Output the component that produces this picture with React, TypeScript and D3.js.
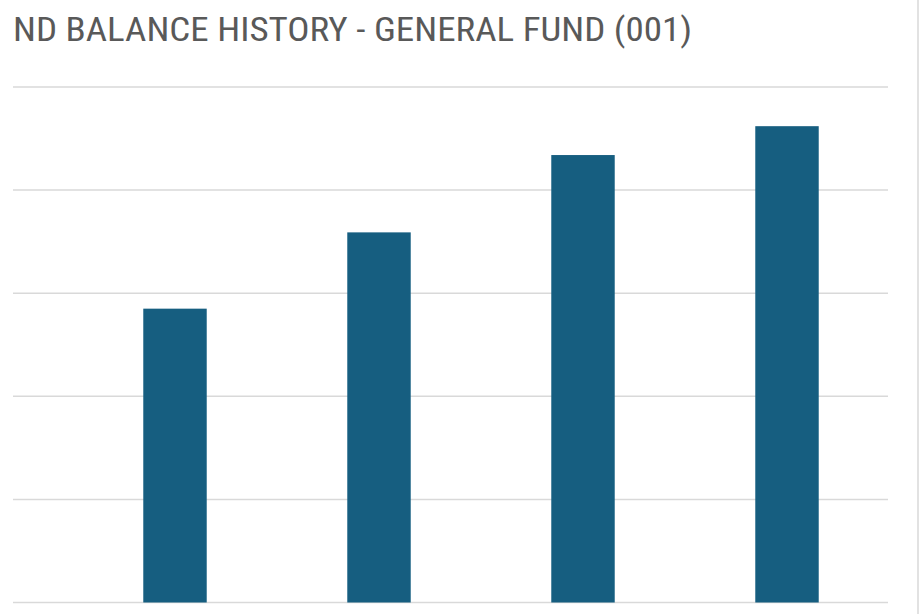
import * as d3 from "d3";
import { useEffect, useRef } from "react";

const years = ["FY2020", "FY2021", "FY2022", "FY2023"];
const balances = [28.5, 35.9, 43.4, 46.2];
const gridTicks = [0, 10, 20, 30, 40, 50];
const title = "ND BALANCE HISTORY - GENERAL FUND (001)";

const width = 921;
const height = 614;

function Chart() {
  const ref = useRef<SVGSVGElement | null>(null);

  useEffect(() => {
    const svg = d3.select(ref.current);
    svg.selectAll("*").remove();

    const x = d3.scaleBand<string>()
      .domain(years)
      .range([73, 889])
      .paddingInner(0.689)
      .paddingOuter(0.3445);

    const y = d3.scaleLinear()
      .domain([0, 50])
      .range([602.5, 87]);

    svg.append("rect")
      .attr("width", width)
      .attr("height", height)
      .attr("fill", "#ffffff");

    // gridlines
    svg.append("g")
      .selectAll("line")
      .data(gridTicks)
      .join("line")
      .attr("x1", 13)
      .attr("x2", 888)
      .attr("y1", d => y(d))
      .attr("y2", d => y(d))
      .attr("stroke", "#d9d9d9")
      .attr("stroke-width", 1.5);

    // right edge of the chart frame
    svg.append("line")
      .attr("x1", 918)
      .attr("x2", 918)
      .attr("y1", 0)
      .attr("y2", height)
      .attr("stroke", "#d9d9d9")
      .attr("stroke-width", 1.5);

    svg.append("g")
      .selectAll("rect")
      .data(balances)
      .join("rect")
      .attr("x", (d, i) => x(years[i])!)
      .attr("width", x.bandwidth())
      .attr("y", d => y(d))
      .attr("height", d => y(0) - y(d))
      .attr("fill", "#165e80");

    svg.append("text")
      .attr("x", 13)
      .attr("y", 41)
      .attr("fill", "#595959")
      .attr("font-family", "'Liberation Sans Narrow', 'Roboto Condensed', 'Liberation Sans', sans-serif")
      .attr("font-size", 34)
      .attr("textLength", 679)
      .attr("lengthAdjust", "spacingAndGlyphs")
      .text(title);
  }, []);

  return <svg ref={ref} width={width} height={height} style={{ display: "block" }} />;
}

export default function App() {
  return (
    <div style={{ position: "absolute", left: 0, top: 0 }}>
      <Chart />
    </div>
  );
}
